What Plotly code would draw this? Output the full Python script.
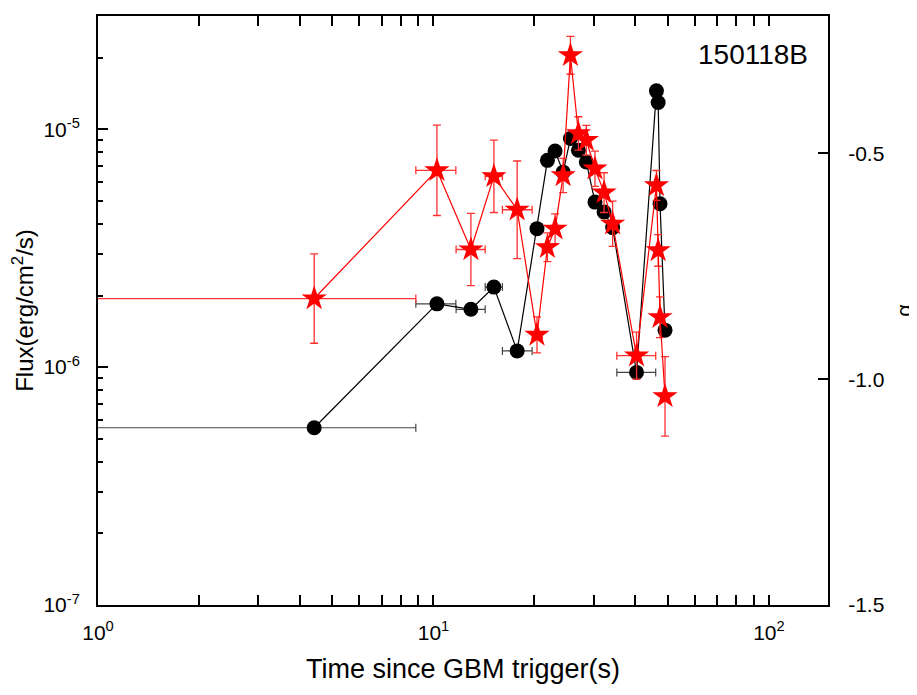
import plotly.graph_objects as go

# ---- data ----
time = [4.41, 10.24, 12.93, 15.14, 17.76, 20.35, 21.86, 23.04, 24.35, 25.6,
        27.04, 28.55, 30.3, 32.25, 34.2, 40.3, 46.2, 46.75, 47.35, 49.0]
t_lo = [0.01, 8.86, 11.68, 14.26, 16.05, 19.68, 21.1, 22.45, 23.7, 25.0,
        26.3, 27.8, 29.4, 31.3, 33.2, 35.2, 45.97, 46.5, 47.1, 47.6]
t_hi = [8.86, 11.66, 14.26, 16.05, 19.68, 21.1, 22.45, 23.7, 25.0, 26.3,
        27.8, 29.4, 31.3, 33.2, 35.2, 45.97, 46.5, 47.1, 47.6, 50.4]
flux = [5.56e-7, 1.845e-6, 1.75e-6, 2.17e-6, 1.17e-6, 3.82e-6, 7.4e-6, 8.1e-6,
        6.6e-6, 9.14e-6, 8.16e-6, 7.28e-6, 4.94e-6, 4.49e-6, 3.86e-6, 9.5e-7,
        1.45e-5, 1.295e-5, 4.86e-6, 1.43e-6]
alpha = [-0.8215, -0.5377, -0.713, -0.551, -0.625, -0.902, -0.708, -0.667,
         -0.549, -0.283, -0.456, -0.471, -0.534, -0.587, -0.656, -0.948,
         -0.571, -0.715, -0.863, -1.038]
alpha_err = [0.099, 0.10, 0.08, 0.08, 0.108, 0.04, 0.032, 0.033, 0.038, 0.042,
             0.037, 0.033, 0.039, 0.044, 0.05, 0.052, 0.033, 0.035, 0.045, 0.088]
grb_name = "150118B"

x_plus = [h - t for h, t in zip(t_hi, time)]
x_minus = [t - l for l, t in zip(t_lo, time)]

FONT = "Liberation Sans, Arial, sans-serif"

fig = go.Figure()
fig.add_trace(go.Scatter(
    x=time, y=flux, mode="lines+markers", name="Flux",
    line=dict(color="black", width=1.2),
    marker=dict(symbol="circle", size=15, color="black"),
    error_x=dict(type="data", symmetric=False, array=x_plus, arrayminus=x_minus,
                 color="#444444", thickness=1.2, width=4),
    showlegend=False,
))
fig.add_trace(go.Scatter(
    x=time, y=alpha, mode="lines+markers", name="alpha", yaxis="y2",
    line=dict(color="#ff0000", width=1.2),
    marker=dict(symbol="star", size=19, color="#ff0000"),
    error_x=dict(type="data", symmetric=False, array=x_plus, arrayminus=x_minus,
                 color="#ff3030", thickness=1.3, width=4),
    error_y=dict(type="data", array=alpha_err, color="#ff3030", thickness=1.3, width=4),
    showlegend=False,
))

x_minor = [v * 10 ** e for e in (0, 1) for v in range(2, 10)]
y_minor = [v * 10.0 ** e for e in (-7, -6, -5) for v in range(2, 10) if v * 10.0 ** e < 3e-5]

# page body adds an 8px offset, so the figure is sized to fit the 917x695 window
fig.update_layout(
    width=909, height=687,
    margin=dict(l=90, r=89, t=8, b=90, autoexpand=False),
    paper_bgcolor="white", plot_bgcolor="white",
    font=dict(family=FONT, color="black", size=21),
    xaxis=dict(
        type="log", range=[0, 2.176], automargin=False,
        showline=True, linecolor="black", linewidth=2, mirror="allticks",
        ticks="inside", ticklen=10, tickwidth=2, tickcolor="black",
        tickvals=[1, 10, 100], ticktext=["10<sup>0</sup>", "10<sup>1</sup>", "10<sup>2</sup>"],
        minor=dict(tickvals=x_minor, ticks="inside", ticklen=5, tickwidth=2, tickcolor="black"),
        showgrid=False, zeroline=False, ticklabelstandoff=8,
        tickfont=dict(size=21),
        title=dict(text="Time since GBM trigger(s)", font=dict(size=27), standoff=16),
    ),
    yaxis=dict(
        type="log", range=[-7, -4.524], automargin=False,
        showline=True, linecolor="black", linewidth=2, mirror=False,
        ticks="inside", ticklen=10, tickwidth=2, tickcolor="black",
        tickvals=[1e-7, 1e-6, 1e-5],
        ticktext=["10<sup>-7</sup>", "10<sup>-6</sup>", "10<sup>-5</sup>"],
        minor=dict(tickvals=y_minor, ticks="inside", ticklen=5, tickwidth=2, tickcolor="black"),
        showgrid=False, zeroline=False, ticklabelstandoff=12,
        tickfont=dict(size=21),
        title=dict(text="Flux(erg/cm<sup>2</sup>/s)", font=dict(size=24), standoff=8),
    ),
    yaxis2=dict(
        overlaying="y", side="right", range=[-1.5, -0.196], automargin=False,
        showline=True, linecolor="black", linewidth=2,
        ticks="inside", ticklen=10, tickwidth=2, tickcolor="black",
        tickvals=[-1.5, -1.0, -0.5], ticktext=["-1.5", "-1.0", "-0.5"],
        showgrid=False, zeroline=False, ticklabelstandoff=14,
        tickfont=dict(size=21),
        title=dict(text="α", font=dict(size=22), standoff=18),
    ),
    annotations=[dict(
        text=grb_name, xref="paper", yref="paper", x=0.976, y=0.935,
        xanchor="right", yanchor="middle", showarrow=False,
        font=dict(size=28, family=FONT, color="black"),
    )],
)

fig.write_html("out.html")
